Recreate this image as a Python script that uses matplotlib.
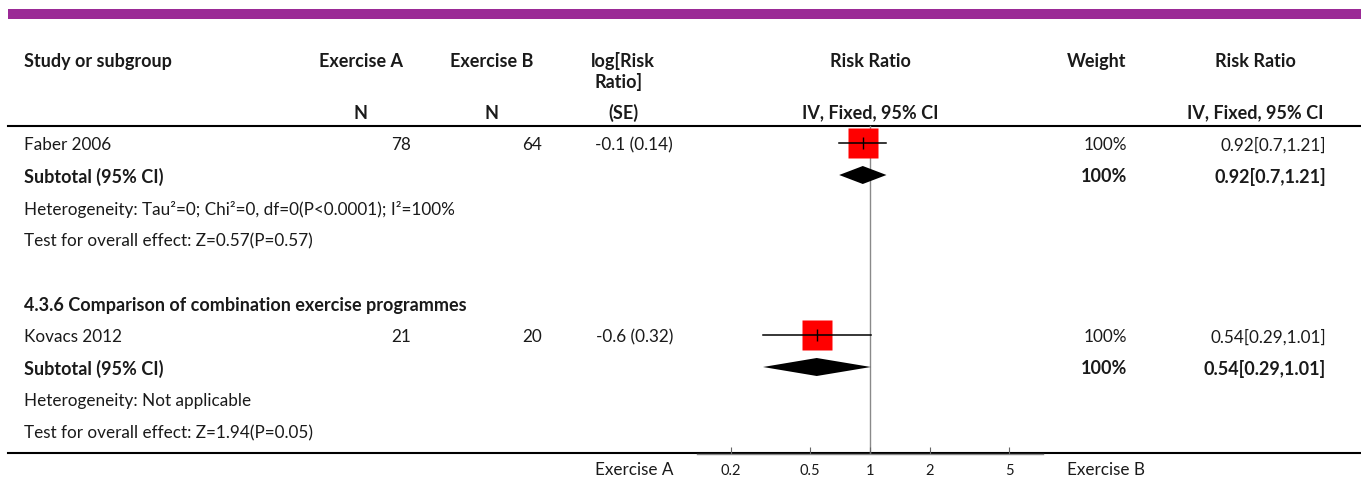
import matplotlib
matplotlib.use("Agg")
import matplotlib.pyplot as plt
import numpy as np

plt.rcParams['font.family'] = ['Lato', 'DejaVu Sans']

# ---------------- data ----------------
studies = ["Faber 2006", "Kovacs 2012"]
n_a = [78, 21]
n_b = [64, 20]
log_rr = [-0.1, -0.6]
se = [0.14, 0.32]
weights = ["100%", "100%"]
rr = [0.92, 0.54]
ci_lo = [0.7, 0.29]
ci_hi = [1.21, 1.01]
sub_rr = [0.92, 0.54]
sub_lo = [0.7, 0.29]
sub_hi = [1.21, 1.01]
sub_weight = ["100%", "100%"]
heterogeneity = ["Heterogeneity: Tau\u00b2=0; Chi\u00b2=0, df=0(P<0.0001); I\u00b2=100%",
                 "Heterogeneity: Not applicable"]
overall = ["Test for overall effect: Z=0.57(P=0.57)",
           "Test for overall effect: Z=1.94(P=0.05)"]
subgroup_titles = [None, "4.3.6 Comparison of combination exercise programmes"]
tick_values = [0.2, 0.5, 1, 2, 5]
tick_labels = ["0.2", "0.5", "1", "2", "5"]
left_label = "Exercise A"
right_label = "Exercise B"

# ---------------- layout ----------------
W, H = 1361, 479
fig = plt.figure(figsize=(W / 100, H / 100), dpi=100)
bg = fig.add_axes([0, 0, 1, 1])
bg.set_xlim(0, W)
bg.set_ylim(H, 0)
bg.axis("off")

FS = 12.3
FB = 13.0
TXT = "#1a1a1a"


def txt(x, y, s, ha="left", bold=False):
    bg.text(x, y, s, fontsize=FB if bold else FS, fontweight="bold" if bold else "normal",
            va="center", ha=ha, color=TXT)


# purple band
bg.add_patch(plt.Rectangle((8, 9), W - 8, 10, color="#9B2A96", lw=0))

# header
hy1, hy2, hy3 = 61, 82, 113
txt(24, hy1, "Study or subgroup", bold=True)
txt(361, hy1, "Exercise A", "center", True)
txt(361, hy3, "N", "center", True)
txt(492, hy1, "Exercise B", "center", True)
txt(492, hy3, "N", "center", True)
txt(623, hy1, "log[Risk", "center", True)
txt(619, hy2, "Ratio]", "center", True)
txt(623, hy3, "(SE)", "center", True)
txt(870, hy1, "Risk Ratio", "center", True)
txt(870, hy3, "IV, Fixed, 95% CI", "center", True)
txt(1097, hy1, "Weight", "center", True)
txt(1255, hy1, "Risk Ratio", "center", True)
txt(1255, hy3, "IV, Fixed, 95% CI", "center", True)

bg.plot([8, W], [126, 126], color="black", lw=1.5)
bg.plot([8, W], [453, 453], color="black", lw=1.5)

ROW0, ROWH = 145, 32

# forest axes
x_left, x_right, y_top, y_bot = 697, 1043, 112, 454
fax = fig.add_axes([x_left / W, (H - y_bot) / H, (x_right - x_left) / W, (y_bot - y_top) / H])
fax.set_xscale("log")
ppd = 199.0
fax.set_xlim(10 ** ((x_left - 870) / ppd), 10 ** ((x_right - 870) / ppd))
fax.set_ylim(y_bot, y_top)
fax.patch.set_alpha(0)
for s in ["top", "left", "right"]:
    fax.spines[s].set_visible(False)
fax.spines["bottom"].set_color("#888888")
fax.spines["bottom"].set_linewidth(1)
fax.set_yticks([])
fax.set_xticks(tick_values)
fax.set_xticklabels(tick_labels)
fax.xaxis.set_minor_locator(matplotlib.ticker.NullLocator())
fax.tick_params(axis="x", direction="in", length=5, width=0.8, color="#666666",
                labelsize=10.5, labelcolor=TXT, pad=7)
fax.axvline(1, ymin=0, ymax=(y_bot - 126) / (y_bot - y_top), color="#8a8a8a", lw=1, zorder=1)

row = 0
for g in range(len(studies)):
    if subgroup_titles[g] is not None:
        y = ROW0 + ROWH * row
        txt(24, y, subgroup_titles[g], bold=True)
        row += 1
    # study row
    y = ROW0 + ROWH * row
    txt(24, y, studies[g])
    txt(411, y, str(n_a[g]), "right")
    txt(542, y, str(n_b[g]), "right")
    txt(673, y, f"{log_rr[g]} ({se[g]})", "right")
    txt(1127, y, weights[g], "right")
    txt(1326, y, f"{rr[g]}[{ci_lo[g]},{ci_hi[g]}]", "right")
    ym = y - 2
    fax.plot([rr[g]], [ym], marker="s", markersize=22, color="#ff0000", mec="none", zorder=3)
    fax.plot([ci_lo[g], ci_hi[g]], [ym, ym], color="black", lw=1.1, zorder=4)
    fax.plot([rr[g]], [ym], marker="|", markersize=8, color="black", mew=1, zorder=5)
    row += 1
    # subtotal row
    y = ROW0 + ROWH * row
    txt(24, y, "Subtotal (95% CI)", bold=True)
    txt(1127, y, sub_weight[g], "right", True)
    txt(1326, y, f"{sub_rr[g]}[{sub_lo[g]},{sub_hi[g]}]", "right", True)
    yc = y - 2
    fax.fill([sub_lo[g], sub_rr[g], sub_hi[g], sub_rr[g]], [yc, yc - 9, yc, yc + 9],
             color="black", lw=0, zorder=3)
    row += 1
    y = ROW0 + ROWH * row
    txt(24, y, heterogeneity[g])
    row += 1
    y = ROW0 + ROWH * row
    txt(24, y, overall[g])
    row += 1
    if g == 0:
        row += 1

txt(674, 470, left_label, "right")
txt(1067, 470, right_label)

fig.savefig("out.png", dpi=100)
